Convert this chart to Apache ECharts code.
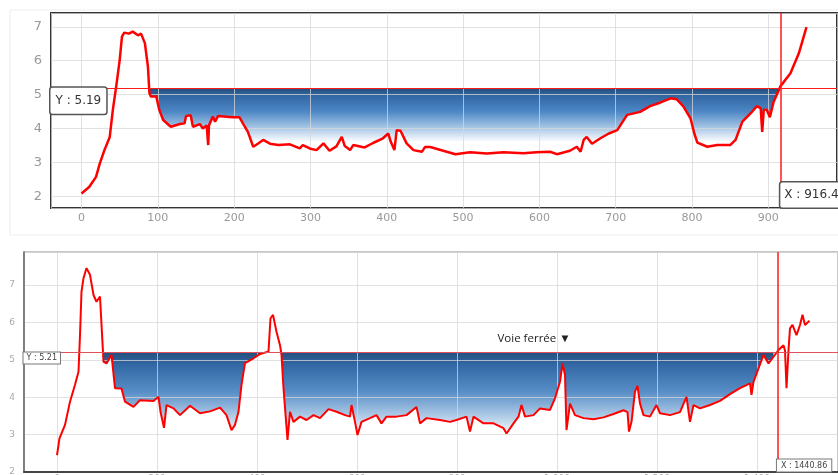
<!DOCTYPE html>
<html>
<head>
<meta charset="utf-8">
<script src="https://cdn.jsdelivr.net/npm/echarts@6/dist/echarts.min.js"></script>
<style>
  html, body { margin: 0; padding: 0; background: #fff; }
  #main { width: 838px; height: 475px; }
</style>
</head>
<body>
<div id="main"></div>
<script>
// profil du haut : [distance, valeur]
var topProfile = [
    [0,2.08],[10,2.27],[19,2.57],[24,2.97],[30,3.36],[37,3.75],[41,4.54],[46,5.33],[50,6.02],[53,6.71],
    [56,6.83],[62,6.8],[67,6.86],[74,6.75],[78,6.8],[83,6.52],[87,5.83],[89,5.04],[91,4.94],[98,4.94],
    [102,4.54],[107,4.25],[117,4.05],[129,4.13],[135,4.15],[137,4.37],[143,4.39],[146,4.05],[155,4.13],[159,4.0],
    [164,4.09],[166,3.51],[167,4.09],[172,4.35],[175,4.2],[179,4.37],[198,4.33],[207,4.33],[214,4.05],[218,3.9],
    [225,3.46],[231,3.55],[238,3.66],[247,3.55],[258,3.51],[273,3.53],[286,3.41],[290,3.51],[299,3.41],[308,3.36],
    [317,3.56],[325,3.34],[334,3.47],[341,3.75],[345,3.48],[352,3.36],[356,3.51],[371,3.44],[382,3.57],[395,3.71],
    [402,3.85],[405,3.62],[410,3.36],[413,3.95],[418,3.93],[426,3.56],[435,3.36],[446,3.31],[450,3.45],[457,3.45],
    [474,3.34],[490,3.24],[509,3.3],[531,3.26],[553,3.3],[579,3.27],[596,3.3],[614,3.31],[623,3.24],[640,3.34],
    [649,3.46],[654,3.31],[658,3.66],[662,3.75],[669,3.55],[680,3.71],[691,3.85],[702,3.95],[715,4.4],[732,4.49],
    [745,4.66],[758,4.76],[772,4.89],[780,4.86],[789,4.64],[798,4.3],[803,3.85],[807,3.58],[820,3.46],[833,3.51],
    [850,3.51],[857,3.66],[866,4.2],[877,4.45],[885,4.66],[890,4.6],[892,3.9],[894,4.55],[898,4.55],[902,4.33],
    [907,4.79],[916,5.25],[929,5.63],[940,6.22],[950,6.99]
];
var topLevel = 5.19;
var topCursorX = 916.4;
var topFillFrom = 89;

// profil du bas
var bottomProfile = [
    [0,2.45],[5,2.9],[16,3.26],[26,3.88],[36,4.33],[43,4.68],[46,5.66],[49,6.82],[53,7.18],[59,7.45],
    [66,7.27],[73,6.73],[79,6.55],[86,6.69],[89,6.66],[93,4.95],[99,4.9],[109,5.13],[116,4.24],[129,4.23],
    [136,3.88],[153,3.74],[166,3.92],[193,3.9],[203,4.01],[207,3.61],[214,3.18],[219,3.79],[233,3.7],[246,3.52],
    [266,3.77],[286,3.57],[306,3.62],[326,3.72],[339,3.52],[349,3.12],[356,3.26],[363,3.61],[369,4.33],[376,4.91],
    [393,5.04],[406,5.15],[423,5.22],[427,6.11],[432,6.2],[439,5.75],[446,5.39],[449,5.13],[453,4.24],[456,4.2],
    [461,2.86],[466,3.61],[473,3.34],[486,3.48],[499,3.39],[513,3.52],[526,3.44],[543,3.68],[559,3.61],[576,3.52],
    [586,3.48],[589,3.79],[596,3.34],[601,2.99],[609,3.34],[626,3.44],[639,3.52],[649,3.3],[659,3.48],[679,3.48],
    [699,3.52],[719,3.74],[726,3.3],[739,3.44],[766,3.39],[786,3.34],[799,3.39],[819,3.48],[826,3.08],[833,3.48],
    [853,3.3],[873,3.3],[893,3.17],[899,3.03],[913,3.3],[923,3.48],[929,3.79],[936,3.48],[953,3.52],[966,3.7],
    [986,3.66],[996,3.97],[1006,4.41],[1011,4.9],[1016,4.59],[1019,3.12],[1026,3.83],[1036,3.52],[1053,3.44],[1073,3.41],
    [1093,3.46],[1113,3.55],[1133,3.65],[1141,3.6],[1144,3.08],[1149,3.34],[1156,4.15],[1161,4.3],[1166,3.83],[1173,3.52],
    [1186,3.48],[1199,3.79],[1206,3.57],[1226,3.52],[1246,3.6],[1259,4.01],[1266,3.34],[1273,3.79],[1286,3.7],[1306,3.79],
    [1326,3.9],[1346,4.08],[1366,4.24],[1386,4.37],[1389,4.06],[1393,4.41],[1403,4.77],[1413,5.13],[1423,4.9],[1433,5.08],
    [1443,5.26],[1453,5.39],[1456,5.25],[1459,4.24],[1463,5.25],[1466,5.84],[1471,5.93],[1479,5.66],[1486,5.93],[1491,6.2],
    [1496,5.93],[1505,6.04]
];
var bottomLevel = 5.21;
var bottomCursorX = 1440.86;
var bottomFillFrom = 93;
var railwayX = 1014;
var railwayLabel = 'Voie ferrée ▼';

// bornes des axes
var topXMin = -40, topXMax = 990, topYMin = 1.65, topYMax = 7.41;
var botXMin = -66, botXMax = 1562, botYMin = 2, botYMax = 7.88;

// zone remplie entre le niveau et le profil (écrêtée au niveau)
function fillData(profile, from, to, level) {
    var res = [];
    for (var i = 0; i < profile.length; i++) {
        var p = profile[i];
        if (p[0] >= from && p[0] <= to) {
            res.push([p[0], Math.min(p[1], level)]);
        }
    }
    return res;
}

function blueGradient(stops) {
    return {
        type: 'linear', x: 0, y: 0, x2: 0, y2: 1,
        colorStops: stops
    };
}

var myChart = echarts.init(document.getElementById('main'));
var font = 'DejaVu Sans';
var gridColor = 'rgba(215,215,215,0.75)';

var option = {
    backgroundColor: '#fff',
    animation: false,
    graphic: [{
        type: 'rect', shape: { x: 10, y: 10, width: 840, height: 225 },
        style: { fill: 'none', stroke: '#ededed', lineWidth: 1 }, silent: true, z: -1
    }],
    grid: [
        { left: 51, top: 13, right: 1, height: 195, show: true, borderColor: '#333', borderWidth: 2,
          containLabel: false, outerBoundsMode: 'none' },
        { left: 24, top: 252, right: 0, height: 220, show: true, borderColor: '#b5b5b5', borderWidth: 1.5,
          containLabel: false, outerBoundsMode: 'none' }
    ],
    xAxis: [
        {
            gridIndex: 0, type: 'value', min: topXMin, max: topXMax, splitNumber: 10, z: 3,
            axisLine: { show: false }, axisTick: { show: false },
            axisLabel: { color: '#999', fontSize: 11, fontFamily: font, margin: 5, showMinLabel: false, showMaxLabel: false },
            splitLine: { lineStyle: { color: gridColor, width: 1 } }
        },
        {
            gridIndex: 1, type: 'value', min: botXMin, max: botXMax, splitNumber: 8, z: 3,
            axisLine: { show: true, onZero: false, lineStyle: { color: '#444', width: 2 } }, axisTick: { show: false },
            axisLabel: { color: '#aaa', fontSize: 9, fontFamily: font, margin: 2, showMinLabel: false, showMaxLabel: false },
            splitLine: { lineStyle: { color: gridColor, width: 1 } }
        }
    ],
    yAxis: [
        {
            gridIndex: 0, type: 'value', min: topYMin, max: topYMax, splitNumber: 6, z: 3,
            axisLine: { show: false }, axisTick: { show: false },
            axisLabel: { color: '#999', fontSize: 13, fontFamily: font, margin: 9, showMinLabel: false, showMaxLabel: false },
            splitLine: { lineStyle: { color: gridColor, width: 1 } }
        },
        {
            gridIndex: 1, type: 'value', min: botYMin, max: botYMax, splitNumber: 6, z: 3,
            axisLine: { show: true, onZero: false, lineStyle: { color: '#666', width: 1.5 } }, axisTick: { show: false },
            axisLabel: { color: '#aaa', fontSize: 9, fontFamily: font, margin: 9, showMaxLabel: false },
            splitLine: { lineStyle: { color: gridColor, width: 1 } }
        }
    ],
    series: [
        {
            // remplissage haut
            type: 'line', xAxisIndex: 0, yAxisIndex: 0, z: 2, silent: true,
            data: fillData(topProfile, topFillFrom, topCursorX, topLevel),
            symbol: 'none', lineStyle: { width: 0, opacity: 0 },
            areaStyle: {
                origin: topLevel, opacity: 1,
                color: blueGradient([
                    { offset: 0, color: '#244e7c' },
                    { offset: 0.12, color: '#3268a4' },
                    { offset: 0.35, color: '#4c86c4' },
                    { offset: 0.6, color: '#a8c7e6' },
                    { offset: 0.82, color: '#ffffff' },
                    { offset: 1, color: '#ffffff' }
                ])
            }
        },
        {
            type: 'line', xAxisIndex: 0, yAxisIndex: 0, z: 4,
            data: topProfile, symbol: 'none',
            lineStyle: { color: '#ff0000', width: 2.5 },
            markLine: {
                silent: true, symbol: 'none', animation: false,
                label: { show: false },
                data: [
                    { yAxis: topLevel, lineStyle: { color: '#ff1a1a', width: 1.2, type: 'solid' } },
                    { xAxis: topCursorX, lineStyle: { color: '#ff1a1a', width: 1.5, type: 'solid' } }
                ]
            },
            markPoint: {
                silent: true, animation: false,
                symbol: 'rect', symbolSize: 1, itemStyle: { color: 'rgba(0,0,0,0)' },
                data: [
                    {
                        coord: [topXMin, topLevel],
                        label: {
                            show: true, position: [0, 0], formatter: 'Y : ' + topLevel,
                            fontFamily: font, fontSize: 12, color: '#333', lineHeight: 15,
                            backgroundColor: '#fff', borderColor: '#555', borderWidth: 1.5, borderRadius: 2,
                            padding: [6, 5, 5, 5]
                        }
                    },
                    {
                        coord: [topCursorX, topYMin],
                        label: {
                            show: true, position: [0, -25], formatter: 'X : ' + topCursorX,
                            fontFamily: font, fontSize: 12, color: '#333', lineHeight: 15,
                            backgroundColor: '#fff', borderColor: '#555', borderWidth: 1.5, borderRadius: 2,
                            padding: [5, 4]
                        }
                    }
                ]
            }
        },
        {
            // remplissage bas
            type: 'line', xAxisIndex: 1, yAxisIndex: 1, z: 2, silent: true,
            data: fillData(bottomProfile, bottomFillFrom, bottomCursorX, bottomLevel),
            symbol: 'none', lineStyle: { width: 0, opacity: 0 },
            areaStyle: {
                origin: bottomLevel, opacity: 1,
                color: blueGradient([
                    { offset: 0, color: '#244e7c' },
                    { offset: 0.15, color: '#3268a4' },
                    { offset: 0.45, color: '#578ec7' },
                    { offset: 0.75, color: '#b6d0e9' },
                    { offset: 0.95, color: '#ffffff' },
                    { offset: 1, color: '#ffffff' }
                ])
            }
        },
        {
            type: 'line', xAxisIndex: 1, yAxisIndex: 1, z: 4,
            data: bottomProfile, symbol: 'none',
            lineStyle: { color: '#ff0000', width: 2 },
            markLine: {
                silent: true, symbol: 'none', animation: false,
                label: { show: false },
                data: [
                    { yAxis: bottomLevel, lineStyle: { color: '#e0505a', width: 1, type: 'solid' } },
                    { xAxis: bottomCursorX, lineStyle: { color: '#ff1a1a', width: 1.5, type: 'solid' } }
                ]
            },
            markPoint: {
                silent: true, animation: false,
                symbol: 'rect', symbolSize: 1, itemStyle: { color: 'rgba(0,0,0,0)' },
                data: [
                    {
                        coord: [botXMin, bottomLevel],
                        label: {
                            show: true, position: [0, 1], formatter: 'Y : ' + bottomLevel,
                            fontFamily: font, fontSize: 8, color: '#444', lineHeight: 9,
                            backgroundColor: '#fff', borderColor: '#777', borderWidth: 1,
                            padding: [1, 3]
                        }
                    },
                    {
                        coord: [bottomCursorX, botYMin],
                        label: {
                            show: true, position: [0, -12], formatter: 'X : ' + bottomCursorX,
                            fontFamily: font, fontSize: 8, color: '#444', lineHeight: 10,
                            backgroundColor: '#fff', borderColor: '#777', borderWidth: 1,
                            padding: [1, 4]
                        }
                    },
                    {
                        coord: [railwayX, bottomLevel],
                        label: {
                            show: true, position: [-66, -19], formatter: railwayLabel,
                            fontFamily: 'Open Sans', fontSize: 11.5, color: '#222'
                        }
                    }
                ]
            }
        }
    ]
};

myChart.setOption(option);
window.addEventListener('resize', function () {
    myChart.resize();
});
</script>
</body>
</html>
